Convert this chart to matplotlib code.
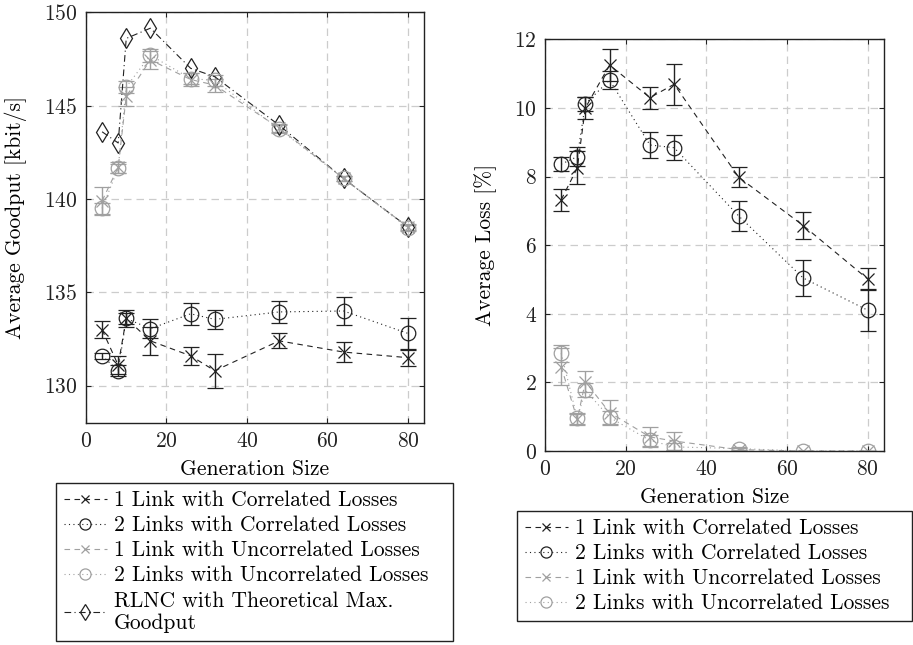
import numpy as np
import matplotlib
matplotlib.use("Agg")
import matplotlib.pyplot as plt
from matplotlib.lines import Line2D

plt.rcParams.update({
    "font.family": "cmr10", "axes.formatter.use_mathtext": True,
    "mathtext.fontset": "cm", "font.size": 15.5,
    "axes.linewidth": 1.0, "axes.edgecolor": "#222222",
    "xtick.direction": "in", "ytick.direction": "in",
    "xtick.top": True, "ytick.right": True,
    "xtick.major.size": 3.5, "ytick.major.size": 3.5,
    "xtick.major.pad": 6, "ytick.major.pad": 6,
    "xtick.color": "#222222", "ytick.color": "#222222",
})

gen = [4, 8, 10, 16, 26, 32, 48, 64, 80]

# goodput [kbit/s]
gp_1c = [133.0, 131.1, 133.6, 132.4, 131.6, 130.8, 132.4, 131.8, 131.5]
gp_1c_err = [0.45, 0.5, 0.45, 0.75, 0.48, 0.9, 0.4, 0.53, 0.43]
gp_2c = [131.6, 130.8, 133.6, 133.05, 133.85, 133.55, 133.95, 134.0, 132.8]
gp_2c_err = [0.15, 0.3, 0.3, 0.52, 0.6, 0.52, 0.6, 0.74, 0.83]
gp_1u = [139.9, 141.7, 145.5, 147.45, 146.4, 146.1, 143.8, 141.1, 138.5]
gp_1u_err = [0.75, 0.3, 0.5, 0.5, 0.35, 0.35, 0.2, 0.15, 0.15]
gp_2u = [139.5, 141.65, 146.0, 147.7, 146.45, 146.35, 143.75, 141.1, 138.45]
gp_2u_err = [0.3, 0.25, 0.3, 0.35, 0.3, 0.3, 0.2, 0.15, 0.15]
gp_rlnc = [143.6, 143.0, 148.6, 149.15, 147.0, 146.55, 143.95, 141.1, 138.5]

# loss [%]
ls_1c = [7.32, 8.25, 10.0, 11.25, 10.3, 10.69, 7.98, 6.57, 5.01]
ls_1c_err = [0.32, 0.48, 0.32, 0.47, 0.32, 0.6, 0.29, 0.39, 0.32]
ls_2c = [8.36, 8.58, 10.12, 10.81, 8.92, 8.84, 6.85, 5.04, 4.1]
ls_2c_err = [0.21, 0.27, 0.2, 0.27, 0.39, 0.37, 0.43, 0.53, 0.61]
ls_1u = [2.46, 0.92, 2.02, 1.12, 0.41, 0.29, 0.04, 0.0, 0.0]
ls_1u_err = [0.55, 0.15, 0.3, 0.37, 0.28, 0.25, 0.05, 0.0, 0.0]
ls_2u = [2.85, 0.95, 1.77, 0.98, 0.31, 0.12, 0.07, 0.0, 0.0]
ls_2u_err = [0.25, 0.15, 0.2, 0.2, 0.15, 0.1, 0.05, 0.0, 0.0]

labels = ["1 Link with Correlated Losses", "2 Links with Correlated Losses",
          "1 Link with Uncorrelated Losses", "2 Links with Uncorrelated Losses",
          "RLNC with Theoretical Max.\nGoodput"]

BLK, GRY = "#222222", "#a0a0a0"
styles = [
    dict(color=BLK, ls=(0, (5, 4)), marker="x", ms=8),
    dict(color=BLK, ls=(0, (1, 3)), marker="o", ms=10.5, mfc="none"),
    dict(color=GRY, ls=(0, (5, 4)), marker="x", ms=8),
    dict(color=GRY, ls=(0, (1, 3)), marker="o", ms=10.5, mfc="none"),
    dict(color=BLK, ls=(0, (6, 3, 1, 3)), marker="d", ms=10, mfc="none"),
]
# smaller markers in the legend keys
leg_ms = [6, 8, 6, 8, 8]

W, H = 913, 645
fig = plt.figure(figsize=(W / 100, H / 100), dpi=100)
ax0 = fig.add_axes([86 / W, 1 - 423 / H, 338 / W, (423 - 12.3) / H])
ax1 = fig.add_axes([545 / W, 1 - 451 / H, 339 / W, (451 - 39.3) / H])


def draw(ax, series):
    for (y, e), st, lab in zip(series, styles, labels):
        st = dict(st)
        c = st.pop("color")
        if e is None:
            ax.plot(gen, y, color=c, lw=0.8, mew=0.9, **st)
        else:
            ax.errorbar(gen, y, yerr=e, color=c, ecolor=c, lw=0.8, mew=0.9,
                        elinewidth=1.0, capsize=6, capthick=1.0, **st)
    ax.grid(True, color="#cccccc", ls=(0, (6, 4)), lw=0.9)
    ax.set_axisbelow(True)
    ax.set_xlim(0, 84)
    ax.set_xticks([0, 20, 40, 60, 80])
    ax.set_xlabel("Generation Size", labelpad=6)


def handles(n):
    hs = []
    for st, ms in zip(styles[:n], leg_ms):
        st = dict(st)
        st["ms"] = ms
        hs.append(Line2D([], [], lw=0.8, mew=0.9, **st))
    return hs


draw(ax0, [(gp_1c, gp_1c_err), (gp_2c, gp_2c_err), (gp_1u, gp_1u_err),
           (gp_2u, gp_2u_err), (gp_rlnc, None)])
ax0.set_ylim(128, 150)
ax0.set_yticks([130, 135, 140, 145, 150])
ax0.set_ylabel("Average Goodput [kbit/s]", labelpad=12)

draw(ax1, [(ls_1c, ls_1c_err), (ls_2c, ls_2c_err), (ls_1u, ls_1u_err),
           (ls_2u, ls_2u_err)])
ax1.set_ylim(0, 12)
ax1.set_yticks([0, 2, 4, 6, 8, 10, 12])
ax1.set_ylabel("Average Loss [%]", labelpad=12)

legkw = dict(loc="upper left", mode="expand", fancybox=False, edgecolor=BLK,
             framealpha=1, handlelength=2.0, handletextpad=0.35, labelspacing=0.26,
             borderpad=0.35, borderaxespad=0, fontsize=15.5)
lg0 = fig.legend(handles=handles(5), labels=labels,
                 bbox_to_anchor=(56 / W, 1 - 483 / H, 397 / W, 0.0), **legkw)
lg1 = fig.legend(handles=handles(4), labels=labels[:4],
                 bbox_to_anchor=(517 / W, 1 - 511 / H, 395 / W, 0.0), **legkw)
for lg in (lg0, lg1):
    lg.get_frame().set_linewidth(1.0)

fig.savefig("out.png", dpi=100)
